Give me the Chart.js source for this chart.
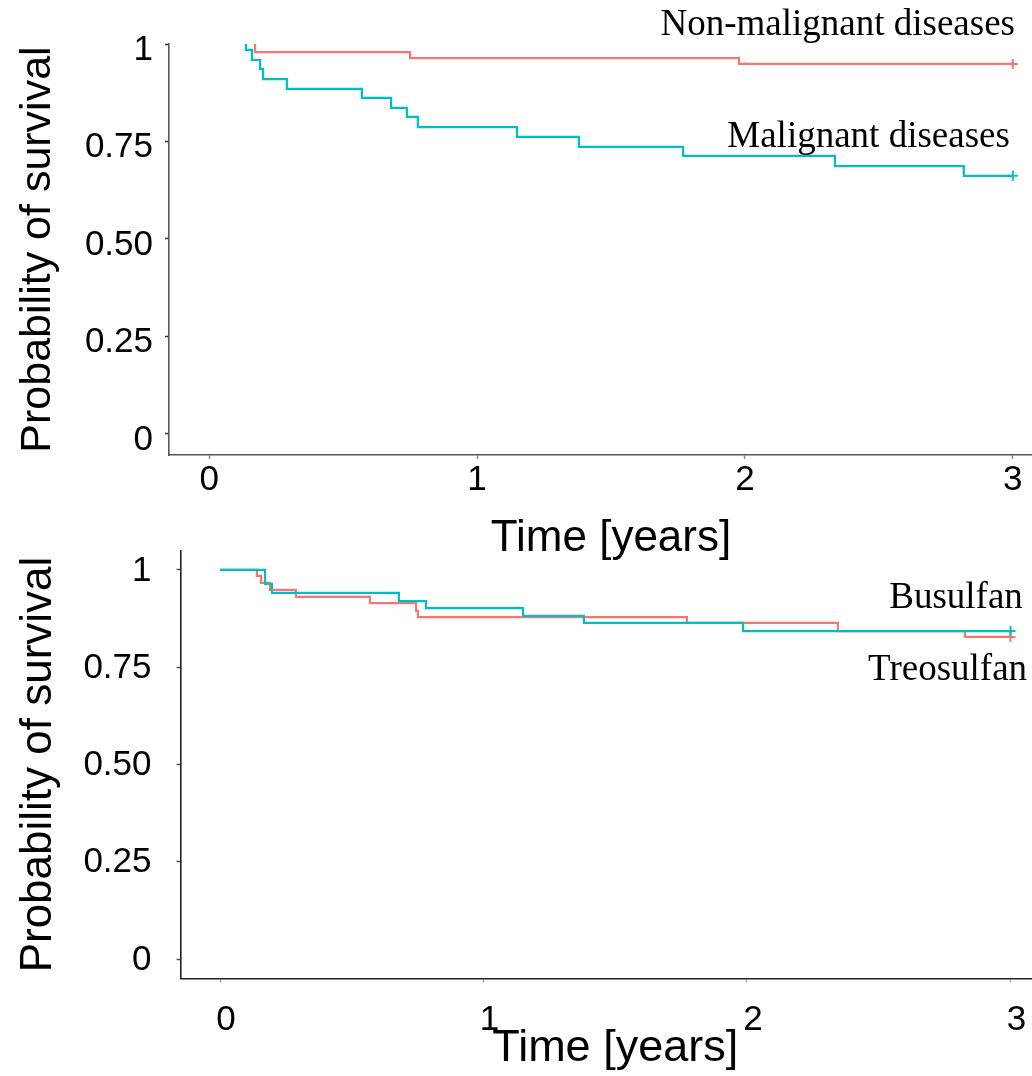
<!DOCTYPE html>
<html>
<head>
<meta charset="utf-8">
<script src="https://cdn.jsdelivr.net/npm/chart.js@4.4.1/dist/chart.umd.min.js"></script>
<style>
  html, body { margin: 0; padding: 0; background: #fff; overflow: hidden; width: 1032px; height: 1076px; }
  canvas { position: absolute; left: 0; }
  #c1 { top: 0; }
  #c2 { top: 500px; }
</style>
</head>
<body>
<canvas id="c1" width="1060" height="570"></canvas>
<canvas id="c2" width="1060" height="576"></canvas>
<script>
// ---- data ----
const xTickValues = [0, 1, 2, 3];
const xTickLabels = ['0', '1', '2', '3'];
const yTickValues = [0, 0.25, 0.5, 0.75, 1];
const yTickLabels = ['0', '0.25', '0.50', '0.75', '1'];

// Top panel: disease type
const malignantTimes = [0.137, 0.137, 0.160, 0.190, 0.201, 0.290, 0.570, 0.679, 0.738, 0.779, 1.149, 1.380, 1.769, 2.336, 2.817, 3.0];
const malignantSurv  = [1.0, 0.985, 0.959, 0.936, 0.910, 0.885, 0.862, 0.836, 0.813, 0.787, 0.762, 0.736, 0.713, 0.687, 0.662, 0.662];
const nonMalignantTimes = [0.171, 0.171, 0.750, 1.978, 3.0];
const nonMalignantSurv  = [1.0, 0.979, 0.964, 0.949, 0.949];

// Bottom panel: conditioning
const busulfanTimes = [0, 0.171, 0.197, 0.679, 0.782, 1.150, 1.381, 1.985, 3.0];
const busulfanSurv  = [1.0, 0.964, 0.941, 0.920, 0.902, 0.882, 0.864, 0.843, 0.843];
const treosulfanTimes = [0, 0.140, 0.156, 0.190, 0.288, 0.569, 0.744, 0.751, 1.772, 2.345, 2.827, 3.0];
const treosulfanSurv  = [1.0, 0.985, 0.967, 0.949, 0.931, 0.915, 0.895, 0.879, 0.864, 0.843, 0.828, 0.828];

const seriesNamesTop = ['Malignant diseases', 'Non-malignant diseases'];
const seriesNamesBottom = ['Busulfan', 'Treosulfan'];

// ---- styling ----
const RED = '#F8766D';
const TEAL = '#00BFC4';
const SANS = '"Liberation Sans", Arial, sans-serif';
const SERIF = '"Liberation Serif", "Times New Roman", serif';

function pts(t, s) { return t.map((x, i) => ({ x: x, y: s[i] })); }

function kmDataset(label, t, s, color) {
  const n = t.length;
  return {
    label: label,
    data: pts(t, s),
    borderColor: color,
    backgroundColor: color,
    borderWidth: 2.2,
    stepped: true,
    tension: 0,
    fill: false,
    pointStyle: 'cross',
    pointRadius: (ctx) => ctx.dataIndex === n - 1 ? 5 : 0,
    pointBorderWidth: 2,
    pointBorderColor: color,
  };
}

const annotationPlugin = {
  id: 'textLabels',
  afterDraw(chart, args, opts) {
    const ctx = chart.ctx;
    const xs = chart.scales.x, ys = chart.scales.y;
    ctx.save();
    ctx.fillStyle = '#000';
    ctx.font = opts.font;
    ctx.textAlign = 'right';
    ctx.textBaseline = 'alphabetic';
    (opts.items || []).forEach(it => {
      ctx.fillText(it.text, xs.getPixelForValue(it.x), ys.getPixelForValue(it.y));
    });
    ctx.restore();
  }
};

function makeOptions(cfg) {
  return {
    responsive: false,
    animation: false,
    events: [],
    layout: { padding: { top: cfg.padTop, right: cfg.padRight, left: 0, bottom: 0 } },
    plugins: {
      legend: { display: false },
      tooltip: { enabled: false },
      textLabels: { font: '37px ' + SERIF, items: cfg.labels }
    },
    scales: {
      x: {
        type: 'linear',
        min: -0.15, max: 3.15,
        afterFit: (s) => { s.height = cfg.xHeight; },
        afterBuildTicks: (s) => { s.ticks = xTickValues.map(v => ({ value: v })); },
        grid: { drawOnChartArea: false, drawTicks: true, tickLength: 4, tickColor: cfg.xTickColor, tickWidth: 1.5 },
        border: { display: true, color: cfg.axisColor, width: 1.6 },
        ticks: {
          padding: cfg.xTickPad,
          labelOffset: cfg.xLabelOffset,
          color: '#000',
          font: { family: SANS, size: 35 },
          maxRotation: 0, autoSkip: false,
          callback: (v) => { const i = xTickValues.indexOf(v); return i >= 0 ? xTickLabels[i] : ''; }
        },
        title: {
          display: true, text: 'Time [years]', color: '#000',
          font: { family: SANS, size: cfg.xTitleSize },
          padding: { top: 0, bottom: cfg.xTitlePad }
        }
      },
      y: {
        type: 'linear',
        min: cfg.yMin, max: cfg.yMax,
        afterFit: (s) => { s.width = cfg.yWidth; },
        afterBuildTicks: (s) => { s.ticks = yTickValues.map(v => ({ value: v })); },
        grid: { drawOnChartArea: false, drawTicks: true, tickLength: 4, tickColor: cfg.yTickColor, tickWidth: 1.5 },
        border: { display: true, color: cfg.axisColor, width: 1.6 },
        ticks: {
          padding: cfg.yTickPad,
          labelOffset: cfg.yLabelOffset,
          color: '#000',
          font: { family: SANS, size: 35 },
          autoSkip: false,
          callback: (v) => { const i = yTickValues.indexOf(v); return i >= 0 ? yTickLabels[i] : ''; }
        },
        title: {
          display: true, text: 'Probability of survival', color: '#000',
          font: { family: SANS, size: cfg.yTitleSize },
          padding: { top: 12, bottom: 0 }
        }
      }
    }
  };
}

new Chart(document.getElementById('c1'), {
  type: 'line',
  data: {
    datasets: [
      kmDataset(seriesNamesTop[0], malignantTimes, malignantSurv, TEAL),
      kmDataset(seriesNamesTop[1], nonMalignantTimes, nonMalignantSurv, RED)
    ]
  },
  options: makeOptions({
    padTop: 44, padRight: 7, xHeight: 115, yWidth: 169,
    yMin: -0.054, yMax: 1.0,
    xTickPad: 0, xLabelOffset: 0, yTickPad: 12, yLabelOffset: 6,
    xTitlePad: 5, xTitleSize: 44, yTitleSize: 43,
    axisColor: '#555', xTickColor: '#888', yTickColor: '#333',
    labels: [
      { text: seriesNamesTop[1], x: 3.008, y: 1.023 },
      { text: seriesNamesTop[0], x: 2.989, y: 0.736 }
    ]
  }),
  plugins: [annotationPlugin]
});

new Chart(document.getElementById('c2'), {
  type: 'line',
  data: {
    datasets: [
      kmDataset(seriesNamesBottom[0], busulfanTimes, busulfanSurv, TEAL),
      kmDataset(seriesNamesBottom[1], treosulfanTimes, treosulfanSurv, RED)
    ]
  },
  options: makeOptions({
    padTop: 50.5, padRight: 10, xHeight: 97.5, yWidth: 180.5,
    yMin: -0.05, yMax: 1.05,
    xTickPad: 16.5, xLabelOffset: 6, yTickPad: 25, yLabelOffset: 1,
    xTitlePad: 0, xTitleSize: 45, yTitleSize: 44,
    axisColor: '#222', xTickColor: '#aaa', yTickColor: '#555',
    labels: [
      { text: seriesNamesBottom[0], x: 3.047, y: 0.902 },
      { text: seriesNamesBottom[1], x: 3.063, y: 0.717 }
    ]
  }),
  plugins: [annotationPlugin]
});
</script>
</body>
</html>
